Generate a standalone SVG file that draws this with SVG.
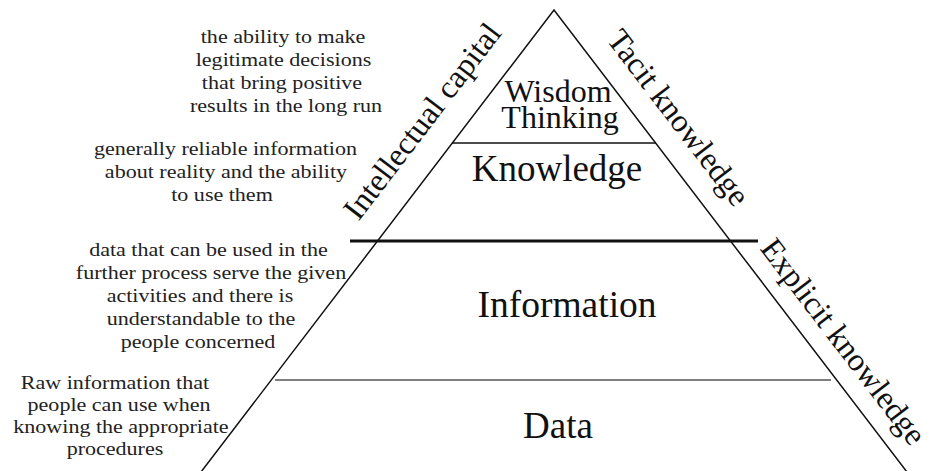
<svg xmlns="http://www.w3.org/2000/svg" width="931" height="471" viewBox="0 0 931 471">
<style>
text{font-family:"Liberation Serif",Tinos,"Times New Roman","DejaVu Serif",serif}
.big{fill:#111;text-anchor:middle}
.small{font-size:19px;fill:#222;text-anchor:middle}
.side{font-size:32px;fill:#111;text-anchor:middle}
</style>
<rect width="931" height="471" fill="#fff"/>
<g id="pyramid" fill="none" stroke="#111">
<polyline points="201,472 554,10 907,472" stroke-width="1.5"/>
<line x1="452" y1="143" x2="656" y2="143" stroke-width="1.6"/>
<line x1="350" y1="241" x2="758" y2="241" stroke-width="3"/>
<line x1="275" y1="380" x2="831" y2="380" stroke="#555" stroke-width="1.6"/>
</g>
<g id="wisdom"><text class="big" font-size="32" x="558" y="102">Wisdom</text><text class="big" font-size="32" x="560" y="128">Thinking</text></g>
<g id="knowledge"><text class="big" font-size="37" x="557" y="181">Knowledge</text></g>
<g id="information"><text class="big" font-size="37.5" x="567" y="317">Information</text></g>
<g id="data"><text class="big" font-size="37" x="558" y="438">Data</text></g>
<g id="side-labels">
<text class="side" transform="translate(430.6,127.6) rotate(-52.6)">Intellectual capital</text>
<text class="side" transform="translate(670,124) rotate(52.6)">Tacit knowledge</text>
<text class="side" transform="translate(835,348) rotate(52.6)">Explicit knowledge</text>
</g>
<g id="descriptions" transform="scale(1.16,1)">
<g id="desc-wisdom">
<text class="small" x="244.0" y="43">the ability to make</text>
<text class="small" x="244.4" y="66">legitimate decisions</text>
<text class="small" x="243.1" y="89">that bring positive</text>
<text class="small" x="246.6" y="112">results in the long run</text>
</g>
<g id="desc-knowledge">
<text class="small" x="194.4" y="155">generally reliable information</text>
<text class="small" x="194.8" y="178">about reality and the ability</text>
<text class="small" x="191.4" y="201">to use them</text>
</g>
<g id="desc-information">
<text class="small" x="179.7" y="256">data that can be used in the</text>
<text class="small" x="181.9" y="279">further process serve the given</text>
<text class="small" x="172.4" y="302">activities and there is</text>
<text class="small" x="173.3" y="325">understandable to the</text>
<text class="small" x="170.7" y="348">people concerned</text>
</g>
<g id="desc-data">
<text class="small" x="99.1" y="389">Raw information that</text>
<text class="small" x="102.6" y="411">people can use when</text>
<text class="small" x="104.3" y="433">knowing the appropriate</text>
<text class="small" x="99.1" y="455">procedures</text>
</g>
</g>
<g id="connectors"></g>
</svg>
